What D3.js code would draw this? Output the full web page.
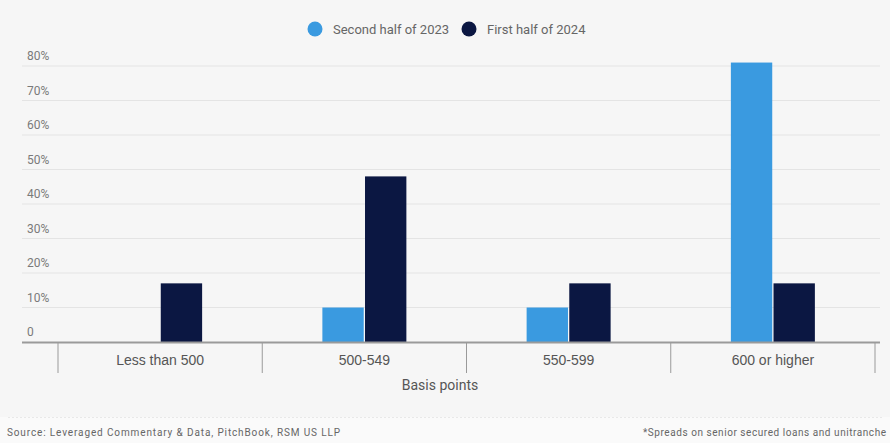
<!DOCTYPE html>
<html>
<head>
<meta charset="utf-8">
<script src="https://cdn.jsdelivr.net/npm/d3@7"></script>
<style>
	body { margin: 0; background: #fff; }
	svg { display: block; font-family: Roboto, 'Noto Sans', sans-serif; }
</style>
</head>
<body>
<svg id="chart" width="890" height="443"></svg>
<script>
const CATEGORIES = ['Less than 500', '500-549', '550-599', '600 or higher'];
const SERIES = ['Second half of 2023', 'First half of 2024'];
const SECOND_HALF_2023 = [0, 10, 10, 81];
const FIRST_HALF_2024 = [17, 48, 17, 17];
const Y_TICKS = [0, 10, 20, 30, 40, 50, 60, 70, 80];
const COLORS = ['#3a9ae0', '#0b1742'];

const W = 890;
const H = 443;
const $svg = d3.select('#chart');

const x = d3.scaleBand().domain(CATEGORIES).range([58, 875]);
const xInner = d3.scaleBand().domain(SERIES).range([0, 84]).paddingInner(0.03);
const y = d3.scaleLinear().domain([0, 80]).range([342, 66]);

// background
$svg.append('rect').attr('width', W).attr('height', 417).attr('fill', '#f6f6f6');
$svg.append('rect').attr('y', 417).attr('width', W).attr('height', H - 417).attr('fill', '#fafafa');
$svg.append('line')
	.attr('x1', 8).attr('x2', 882).attr('y1', 417.5).attr('y2', 417.5)
	.attr('stroke', '#e8e8e8').attr('stroke-dasharray', '2,2');

// gridlines + y labels
const $grid = $svg.append('g');
$grid.selectAll('line')
	.data(Y_TICKS.filter(d => d > 0))
	.join('line')
	.attr('x1', 22).attr('x2', 880)
	.attr('y1', d => y(d)).attr('y2', d => y(d))
	.attr('stroke', '#e4e4e4');
$grid.selectAll('text')
	.data(Y_TICKS)
	.join('text')
	.attr('x', 27)
	.attr('y', d => y(d) - 6)
	.attr('font-size', 12)
	.attr('fill', '#7a7a7a')
	.text(d => (d === 0 ? '0' : `${d}%`));

// bars
const rows = CATEGORIES.map((c, i) => ({
	cat: c,
	vals: [SECOND_HALF_2023[i], FIRST_HALF_2024[i]]
}));
const $group = $svg.selectAll('.cat')
	.data(rows)
	.join('g')
	.attr('transform', d => `translate(${x(d.cat) + x.bandwidth() / 2 - 42},0)`);
$group.selectAll('rect')
	.data(d => d.vals.map((v, k) => ({ s: SERIES[k], v, k })))
	.join('rect')
	.attr('x', d => xInner(d.s))
	.attr('width', xInner.bandwidth())
	.attr('y', d => y(d.v))
	.attr('height', d => y(0) - y(d.v))
	.attr('fill', d => COLORS[d.k]);

// x axis
const xAxis = d3.axisBottom(x).tickSize(0).tickPadding(13);
const $x = $svg.append('g').attr('transform', `translate(0,${y(0)})`).call(xAxis);
$x.select('.domain').remove();
$x.selectAll('text').attr('font-size', 14).attr('fill', '#555').attr('font-family', null);
$svg.append('line')
	.attr('x1', 22).attr('x2', 880)
	.attr('y1', y(0) + 0.5).attr('y2', y(0) + 0.5)
	.attr('stroke', '#9a9a9a').attr('stroke-width', 2);
const bounds = CATEGORIES.map(c => x(c)).concat([x.range()[1]]);
$svg.append('g').selectAll('line')
	.data(bounds)
	.join('line')
	.attr('x1', d => d).attr('x2', d => d)
	.attr('y1', y(0)).attr('y2', y(0) + 31)
	.attr('stroke', '#9a9a9a');

$svg.append('text')
	.attr('x', 440).attr('y', 390)
	.attr('text-anchor', 'middle')
	.attr('font-size', 14).attr('fill', '#555')
	.text('Basis points');

// legend
const LEGEND_X = [315, 469];
const $leg = $svg.append('g').selectAll('g')
	.data(SERIES)
	.join('g')
	.attr('transform', (d, i) => `translate(${LEGEND_X[i]},29)`);
$leg.append('circle').attr('r', 7.5).attr('fill', (d, i) => COLORS[i]);
$leg.append('text')
	.attr('x', 18).attr('y', 4.5)
	.attr('font-size', 13).attr('fill', '#666')
	.text(d => d);

// footer
$svg.append('text')
	.attr('x', 7).attr('y', 436)
	.attr('font-size', 10).attr('fill', '#666')
	.attr('textLength', 333)
	.text('Source: Leveraged Commentary & Data, PitchBook, RSM US LLP');
$svg.append('text')
	.attr('x', 643).attr('y', 436)
	.attr('font-size', 10).attr('fill', '#666')
	.attr('textLength', 243)
	.text('*Spreads on senior secured loans and unitranche');
</script>
</body>
</html>
